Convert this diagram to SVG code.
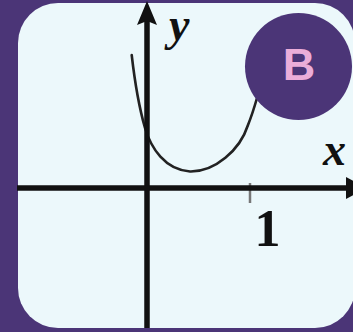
<svg xmlns="http://www.w3.org/2000/svg" width="353" height="332" viewBox="0 0 353 332">
  <style>
    .axis { stroke: #111; stroke-width: 5.5; fill: none; }
    .curve { stroke: #222; stroke-width: 2.6; fill: none; stroke-linecap: round; }
    .lbl { font-family: "Liberation Serif", "Times New Roman", serif; fill: #111; }
    .it { font-style: italic; font-weight: bold; font-size: 46px; }
  </style>
  <rect x="0" y="0" width="353" height="332" fill="#4b3577"/>
  <rect id="panel" x="18" y="3" width="337" height="325" rx="40" ry="40" fill="#ecf8fb"/>
  <g id="graph">
    <path class="curve" d="M131.7,55 C134,75 137,100 145,128 C151,148 165,170 190,171.5 C215,172 240,150 248,125 C252,115 255,105 257,98"/>
    <line x1="250" y1="183" x2="250" y2="203" stroke="#777" stroke-width="2.5"/>
  </g>
  <g id="axes">
    <line class="axis" x1="147" y1="18" x2="147" y2="328"/>
    <polygon points="147,1 137,25 147,21 157,25" fill="#111"/>
    <line class="axis" x1="17" y1="188" x2="350" y2="188"/>
    <polygon points="346,177 366,188 346,199" fill="#111"/>
  </g>
  <g id="labels">
    <text class="lbl it" x="169" y="40" font-size="38">y</text>
    <text class="lbl it" x="323" y="165">x</text>
    <text class="lbl" x="267.5" y="246" font-size="52" font-weight="bold" text-anchor="middle">1</text>
  </g>
  <g id="badge">
    <circle cx="298.5" cy="66.5" r="53.5" fill="#4b3577"/>
    <text x="299" y="80" font-family="Liberation Sans, Arial, sans-serif" font-weight="bold" font-size="45" fill="#ebadd9" text-anchor="middle">B</text>
  </g>
</svg>
